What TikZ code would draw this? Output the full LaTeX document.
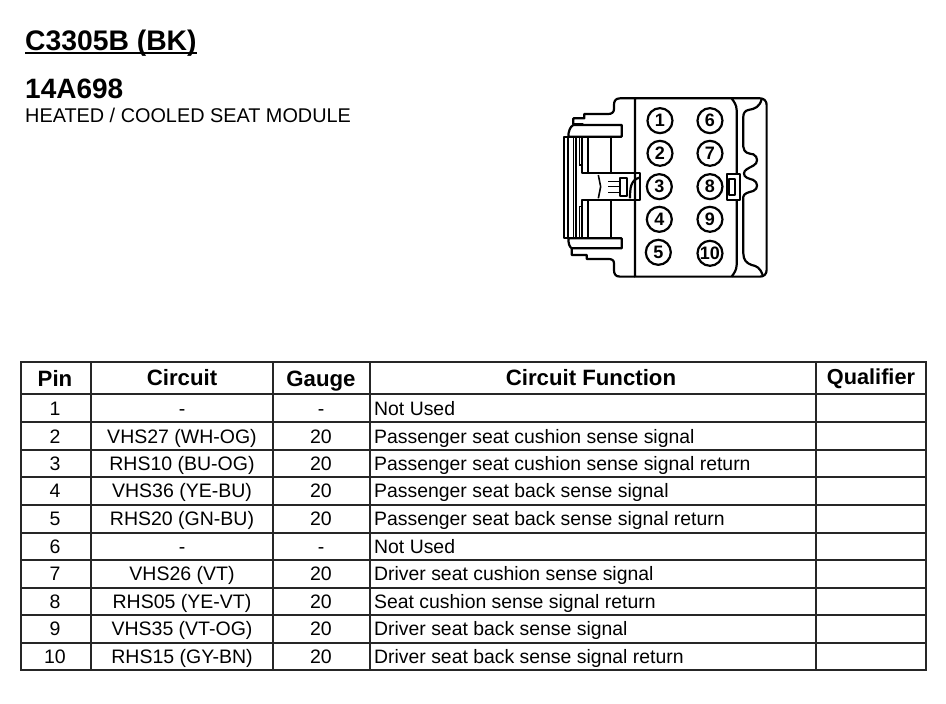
\documentclass[tikz,border=0pt]{standalone}
\usepackage{fontspec}
\setmainfont{Liberation Sans}
\tikzset{
  cell/.style={inner sep=0pt,anchor=base,font=\fontsize{19.5}{20}\selectfont},
  fn/.style={inner sep=0pt,anchor=base west,font=\fontsize{19.4}{20}\selectfont},
  head/.style={inner sep=0pt,anchor=base,font=\fontsize{22.2}{24}\selectfont\bfseries},
  grid/.style={line width=1.5pt,black!85},
  conn/.style={line width=2.2pt,line join=round,black},
  thin part/.style={line width=1.6pt,black},
  pinring/.style={circle,draw,line width=2.2pt,minimum size=25pt,inner sep=0pt,font=\fontsize{18}{20}\selectfont\bfseries},
}
\begin{document}
\begin{tikzpicture}[x=1pt,y=-1pt]
\useasboundingbox (0,0) rectangle (946,704);
\fill[white] (0,0) rectangle (946,704);
% titles
\node[inner sep=0pt,anchor=base west,font=\fontsize{28.3}{30}\selectfont\bfseries] (title) at (25,50) {C3305B (BK)};
\draw[line width=1.5pt] (25,53) -- (197,53);
\node[inner sep=0pt,anchor=base west,font=\fontsize{28}{30}\selectfont\bfseries] (part) at (25,98) {14A698};
\node[inner sep=0pt,anchor=base west,font=\fontsize{19.85}{22}\selectfont] (module) at (25,122) {HEATED / COOLED SEAT MODULE};
% connector
\begin{scope}[shift={(540,85)},x=0.3333pt,y=-0.3333pt]
 \draw[conn] (285,40) -- (240,40) .. controls (225,40) and (222,50) .. (222,60) -- (222,72) .. controls (222,82) and (215,87) .. (205,87) -- (133,87) -- (133,100) -- (100,100) -- (100,118) -- (130,118);
 \draw[conn] (100,120) -- (245,120) -- (245,155) -- (85,155) .. controls (85,140) and (90,125) .. (100,120);
 \draw[conn] (285,575) -- (240,575) .. controls (225,575) and (222,565) .. (222,555) -- (222,535) .. controls (222,525) and (215,522) .. (205,522) -- (140,522) -- (140,510) -- (95,510) -- (95,490);
 \draw[conn] (85,460) -- (245,460) -- (245,490) -- (95,490) .. controls (88,485) and (85,475) .. (85,460);
 \draw[conn] (285,40) -- (660,40) .. controls (672,40) and (680,48) .. (680,60) -- (680,555) .. controls (680,567) and (672,575) .. (660,575) -- (285,575) -- cycle;
 % left body
 \draw[conn] (72,155) -- (72,460) -- (85,460) -- (85,155) -- cycle;
 \draw[thin part] (100,155) -- (100,460);
 \draw[thin part] (108,155) -- (108,460);
 \draw[thin part] (118,155) -- (118,240) -- (125,240);
 \draw[thin part] (118,460) -- (118,365) -- (125,365);
 \draw[conn] (125,155) -- (125,265) -- (300,265) -- (300,345) -- (125,345) -- (125,460);
 \draw[conn] (145,155) -- (145,265);
 \draw[conn] (145,345) -- (145,460);
 \draw[conn] (212,155) -- (212,265);
 \draw[conn] (212,345) -- (212,460);
 % latch
 \draw[thin part] (175,270) -- (182,305) -- (175,340);
 \draw[thin part] (205,290) -- (240,290);
 \draw[thin part] (205,305) -- (240,305);
 \draw[thin part] (205,322) -- (240,322);
 \draw[conn] (240,278) rectangle (262,332);
 \draw[conn] (270,340) .. controls (270,310) and (272,285) .. (298,278);
 % right contour
 \draw[conn] (575,40) .. controls (582,50) and (590,60) .. (590,75) -- (590,265);
 \draw[conn] (590,345) -- (590,540) .. controls (590,555) and (582,565) .. (575,575);
 \draw[conn] (665,42) .. controls (660,65) and (645,72) .. (625,75) .. controls (615,77) and (610,85) .. (610,95) -- (610,185) .. controls (612,205) and (625,205) .. (640,208) .. controls (655,215) and (655,235) .. (640,242) .. controls (625,250) and (612,255) .. (612,265) .. controls (612,278) and (625,280) .. (640,285) .. controls (655,292) and (655,312) .. (640,318) .. controls (625,322) and (612,325) .. (610,335) -- (610,505) .. controls (610,525) and (620,535) .. (635,540) .. controls (650,543) and (660,548) .. (668,570);
 \draw[conn,fill=white] (560,268) rectangle (600,345);
 \draw[conn] (568,283) rectangle (586,330);
 % pins
 \node[pinring] (p1) at (360,107) {1};
 \node[pinring] (p2) at (360,205) {2};
 \node[pinring] (p3) at (358,305) {3};
 \node[pinring] (p4) at (358,403) {4};
 \node[pinring] (p5) at (355,502) {5};
 \node[pinring] (p6) at (510,107) {6};
 \node[pinring] (p7) at (510,205) {7};
 \node[pinring] (p8) at (510,305) {8};
 \node[pinring] (p9) at (510,403) {9};
 \node[pinring] (p10) at (510,505) {10};
\end{scope}
% table grid
\draw[grid,line width=2pt] (21,362) rectangle (926,670);
\foreach \xx in {91,273,370,816} \draw[grid] (\xx,362) -- (\xx,670);
\foreach \yy in {394,422,450,477,505,533,560,588,615,643} \draw[grid] (21,\yy) -- (926,\yy);
% header
\node[head] (hpin) at (55,386) {Pin};
\node[head] (hcircuit) at (182,385) {Circuit};
\node[head] (hgauge) at (321,386) {Gauge};
\node[head] (hfunc) at (591,385) {Circuit Function};
\node[head,font=\fontsize{21.7}{24}\selectfont\bfseries] (hqual) at (871,384) {Qualifier};
% rows
\foreach \n/\yy/\c/\g/\f in {
 1/415/-/-/Not Used,
 2/443/VHS27 (WH-OG)/20/Passenger seat cushion sense signal,
 3/470/RHS10 (BU-OG)/20/Passenger seat cushion sense signal return,
 4/497/VHS36 (YE-BU)/20/Passenger seat back sense signal,
 5/525/RHS20 (GN-BU)/20/Passenger seat back sense signal return,
 6/553/-/-/Not Used,
 7/580/VHS26 (VT)/20/Driver seat cushion sense signal,
 8/608/RHS05 (YE-VT)/20/Seat cushion sense signal return,
 9/635/VHS35 (VT-OG)/20/Driver seat back sense signal,
 10/663/RHS15 (GY-BN)/20/Driver seat back sense signal return}{
 \node[cell] (pin\n) at (55,\yy) {\n};
 \node[cell] (cir\n) at (182,\yy) {\c};
 \node[cell] (gau\n) at (321,\yy) {\g};
 \node[fn] (fun\n) at (374,\yy) {\f};
}
\end{tikzpicture}
\end{document}
